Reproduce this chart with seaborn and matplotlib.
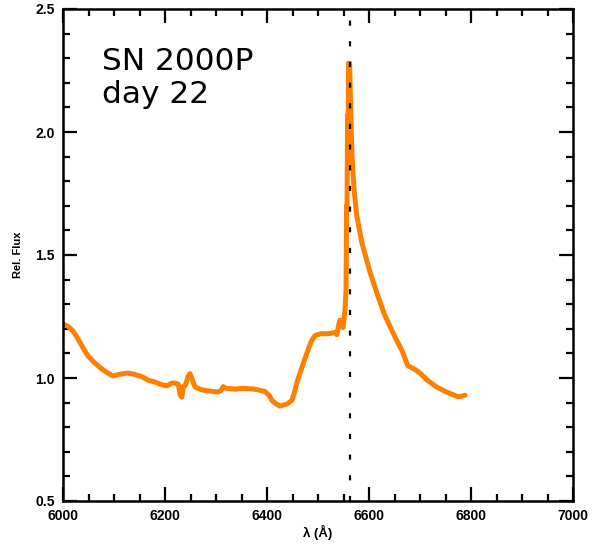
import matplotlib
matplotlib.use("Agg")
import matplotlib.pyplot as plt
from matplotlib.ticker import MultipleLocator
import seaborn as sns
import pandas as pd

wavelength = [6000, 6010, 6020, 6029, 6040, 6049, 6060, 6076, 6088, 6098, 6110, 6127, 6140,
              6155, 6168, 6180, 6195, 6204, 6212, 6218, 6226, 6230, 6233, 6236, 6240, 6246,
              6249, 6254, 6259, 6270, 6282, 6295, 6304, 6310, 6314, 6320, 6337, 6353, 6375,
              6396, 6404, 6410, 6418, 6425, 6440, 6449, 6455, 6459, 6468, 6478, 6487, 6494,
              6505, 6520, 6533, 6537, 6540, 6543, 6546, 6549, 6551, 6553, 6555, 6556, 6557,
              6558, 6559, 6560, 6562, 6564, 6566, 6568, 6571, 6576, 6586, 6602, 6618, 6630,
              6641, 6655, 6665, 6676, 6690, 6700, 6715, 6733, 6750, 6773, 6780, 6788]
flux = [1.22, 1.21, 1.19, 1.16, 1.12, 1.09, 1.065, 1.037, 1.02, 1.008, 1.015, 1.02, 1.015,
        1.005, 0.99, 0.984, 0.972, 0.968, 0.978, 0.98, 0.975, 0.93, 0.922, 0.965, 0.97, 1.01,
        1.018, 0.99, 0.963, 0.953, 0.948, 0.945, 0.943, 0.95, 0.965, 0.958, 0.955, 0.958, 0.955,
        0.945, 0.93, 0.908, 0.895, 0.886, 0.895, 0.91, 0.95, 0.985, 1.04, 1.10, 1.15, 1.172,
        1.18, 1.18, 1.185, 1.176, 1.21, 1.235, 1.22, 1.205, 1.24, 1.28, 1.36, 1.70, 1.70,
        2.07, 1.98, 2.28, 2.28, 2.10, 1.95, 1.85, 1.76, 1.66, 1.55, 1.43, 1.33, 1.26,
        1.21, 1.15, 1.11, 1.05, 1.035, 1.02, 0.99, 0.963, 0.945, 0.925, 0.925, 0.93]

halpha = 6563
label_text = "SN 2000P\nday 22"
x_ticks = [6000, 6200, 6400, 6600, 6800, 7000]
y_ticks = [0.5, 1.0, 1.5, 2.0, 2.5]

df = pd.DataFrame({"wavelength": wavelength, "flux": flux})

sns.set_theme(style="ticks")
plt.rcParams["font.family"] = ["Liberation Sans", "DejaVu Sans"]
plt.rcParams["text.color"] = "black"
plt.rcParams["axes.labelcolor"] = "black"
plt.rcParams["xtick.color"] = "black"
plt.rcParams["ytick.color"] = "black"

fig = plt.figure(figsize=(5.93, 5.46), dpi=100)
ax = fig.add_axes([63 / 593, 1 - 501 / 546, (573 - 63) / 593, (501 - 9) / 546])

sns.lineplot(data=df, x="wavelength", y="flux", ax=ax, color="#FF8000",
             linewidth=3.6, sort=False, estimator=None)
ax.axvline(halpha, color="black", linewidth=1.6, linestyle=(0, (2.3, 7.0)))

ax.set_xlim(6000, 7000)
ax.set_ylim(0.5, 2.5)
ax.set_xticks(x_ticks)
ax.set_yticks(y_ticks)
ax.set_xticklabels([str(t) for t in x_ticks])
ax.set_yticklabels([f"{t:.1f}" for t in y_ticks])
ax.xaxis.set_minor_locator(MultipleLocator(50))
ax.yaxis.set_minor_locator(MultipleLocator(0.1))
ax.tick_params(which="both", direction="in", top=True, right=True, color="black",
               labelcolor="black", width=1.6)
ax.tick_params(which="major", length=10, labelsize=10, pad=6)
ax.tick_params(which="minor", length=5)
for lab in ax.get_xticklabels() + ax.get_yticklabels():
    lab.set_fontweight("bold")
for sp in ax.spines.values():
    sp.set_linewidth(1.8)
    sp.set_color("black")

ax.set_xlabel("λ (Å)", fontsize=9.5, fontweight="bold", labelpad=1, color="black")
ax.set_ylabel("Rel. Flux", fontsize=8, fontweight="bold", labelpad=9, color="black")

ax.text(0.076, 0.922, label_text, transform=ax.transAxes, fontsize=22.5,
        family=["DejaVu Sans"], va="top", ha="left", linespacing=1.15, color="black")

fig.savefig("out.png", dpi=100, facecolor="white")
